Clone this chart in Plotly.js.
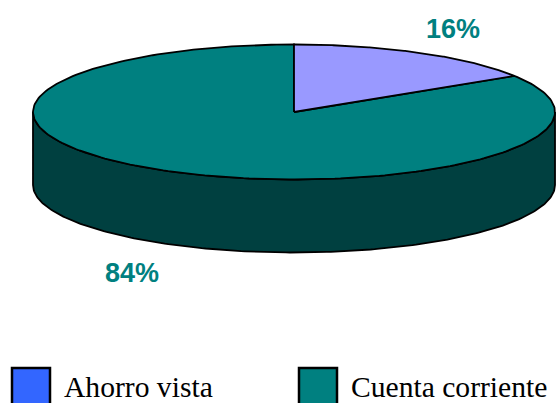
<!DOCTYPE html>
<html>
<head>
<meta charset="utf-8">
<script src="https://cdn.plot.ly/plotly-3.0.1.min.js"></script>
<style>html,body{margin:0;padding:0;background:#fff;overflow:hidden}</style>
</head>
<body>
<div id="chart" style="width:556px;height:403px"></div>
<script>
const categories = ["Ahorro vista", "Cuenta corriente"];
const shares = [16, 84];
const labels = ["16%", "84%"];
const topColors = ["#9999FF", "#008080"];
const sideColor = "#004040";
const legendColors = ["#3366FF", "#008080"];

const cx = 294, cy = 112, rx = 261, ry = 67.5, depth = 73;

// angle measured clockwise from 12 o'clock, in percent of the full turn
function rim(pct) {
  const a = pct / 100 * 2 * Math.PI;
  return [cx + rx * Math.sin(a), cy - ry * Math.cos(a)];
}
function wedge(from, to) {
  const xs = [cx], ys = [cy];
  for (let i = 0; i <= 240; i++) {
    const p = rim(from + (to - from) * i / 240);
    xs.push(p[0]); ys.push(p[1]);
  }
  xs.push(cx); ys.push(cy);
  return {xs, ys};
}
// front wall: lower half of the rim and the same half shifted down
function wall() {
  const xs = [], ys = [];
  for (let i = 0; i <= 200; i++) {
    const p = rim(25 + 50 * i / 200);
    xs.push(p[0]); ys.push(p[1]);
  }
  for (let i = 200; i >= 0; i--) {
    const p = rim(25 + 50 * i / 200);
    xs.push(p[0]); ys.push(p[1] + depth);
  }
  xs.push(xs[0]); ys.push(ys[0]);
  return {xs, ys};
}

const outline = {color: "#000000", width: 1.8};
const traces = [];
const w = wall();
traces.push({type: "scatter", mode: "lines", x: w.xs, y: w.ys, fill: "toself",
  fillcolor: sideColor, line: outline, hoverinfo: "skip", showlegend: false});

let start = 0;
const slices = shares.map((v, i) => {
  const s = wedge(start, start + v);
  start += v;
  return {type: "scatter", mode: "lines", x: s.xs, y: s.ys, fill: "toself",
    fillcolor: topColors[i], line: outline, name: categories[i], showlegend: false};
});
traces.push(slices[1], slices[0]);

const legendX = [31, 318];
const legendTextX = [62, 349];
traces.push({type: "scatter", mode: "markers", x: legendX, y: [387, 387],
  marker: {symbol: "square", size: 38, color: legendColors, line: {color: "#000000", width: 2.5}},
  hoverinfo: "skip", showlegend: false});

const annotations = categories.map((c, i) => ({
  x: legendTextX[i], y: 387, xref: "x", yref: "y", text: c, showarrow: false,
  xanchor: "left", yanchor: "middle",
  font: {family: "Liberation Serif", size: 29.6, color: "#000000"}
}));
const labelX = [453, 132], labelY = [29, 273];
labels.forEach((t, i) => annotations.push({
  x: labelX[i], y: labelY[i], xref: "x", yref: "y", text: "<b>" + t + "</b>",
  showarrow: false, xanchor: "center", yanchor: "middle",
  font: {family: "Liberation Sans", size: 27, color: "#008080"}
}));

Plotly.newPlot("chart", traces, {
  width: 556, height: 403,
  margin: {l: 0, r: 0, t: 0, b: 0},
  paper_bgcolor: "#ffffff", plot_bgcolor: "#ffffff",
  xaxis: {range: [0, 556], visible: false, fixedrange: true},
  yaxis: {range: [403, 0], visible: false, fixedrange: true},
  annotations
}, {displayModeBar: false, staticPlot: true});
</script>
</body>
</html>
